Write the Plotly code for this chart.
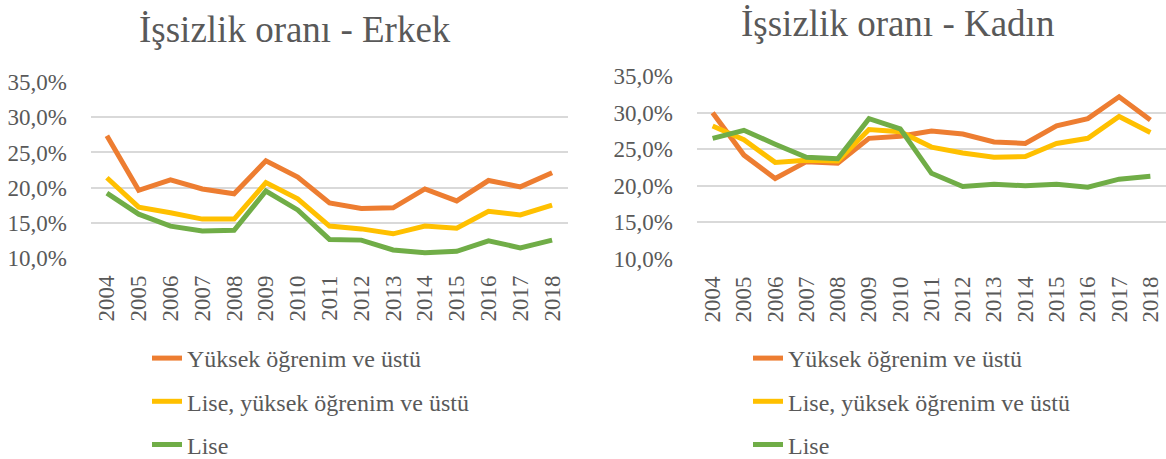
import plotly.graph_objects as go

years = [str(y) for y in range(2004, 2019)]

series_names = ["Yüksek öğrenim ve üstü", "Lise, yüksek öğrenim ve üstü", "Lise"]
colors = ["#ED7D31", "#FFC000", "#70AD47"]

erkek_yuksek = [27.4, 19.6, 21.1, 19.8, 19.1, 23.8, 21.5, 17.8, 17.0, 17.1, 19.8, 18.1, 21.0, 20.1, 22.1]
erkek_lise_yuksek = [21.4, 17.2, 16.4, 15.5, 15.5, 20.7, 18.4, 14.5, 14.1, 13.4, 14.5, 14.2, 16.6, 16.1, 17.5]
erkek_lise = [19.2, 16.2, 14.5, 13.8, 13.9, 19.5, 16.8, 12.6, 12.5, 11.1, 10.7, 10.9, 12.4, 11.4, 12.5]

kadin_yuksek = [30.0, 24.2, 21.0, 23.3, 23.1, 26.5, 26.8, 27.5, 27.1, 26.0, 25.8, 28.2, 29.2, 32.2, 29.0]
kadin_lise_yuksek = [28.2, 26.3, 23.2, 23.5, 23.4, 27.7, 27.4, 25.3, 24.5, 23.9, 24.0, 25.8, 26.5, 29.5, 27.3]
kadin_lise = [26.5, 27.6, 25.7, 23.9, 23.7, 29.2, 27.8, 21.7, 19.9, 20.2, 20.0, 20.2, 19.8, 20.9, 21.3]

titles = ["İşsizlik oranı - Erkek", "İşsizlik oranı - Kadın"]

W, H = 1166, 459
OFF = 0  # body margin removed via post_script
FONT = "Liberation Serif"
GREY = "#595959"

fig = go.Figure()

panels = [
    ("x", "y", "legend", [erkek_yuksek, erkek_lise_yuksek, erkek_lise]),
    ("x2", "y2", "legend2", [kadin_yuksek, kadin_lise_yuksek, kadin_lise]),
]
for xa, ya, lg, data in panels:
    for name, col, vals in zip(series_names, colors, data):
        fig.add_trace(go.Scatter(
            x=years, y=vals, mode="lines", name=name,
            line=dict(color=col, width=5),
            xaxis=xa, yaxis=ya, legend=lg, legendgroup=lg + name,
            hoverinfo="skip",
        ))

def fx(px):
    return (px - OFF) / W

def fy(py):
    return 1 - (py - OFF) / H

axis_common_x = dict(
    type="category", range=[-0.5, 14.5], tickangle=-90, showgrid=False,
    showline=False, zeroline=False, ticks="", ticklabelstandoff=12,
    automargin=False,
    tickfont=dict(family=FONT, size=23, color=GREY), fixedrange=True,
)
axis_common_y = dict(
    range=[9.95, 35.05], dtick=5, tick0=10, tickformat=".1f", ticksuffix="%",
    showgrid=True, gridcolor="#D9D9D9", gridwidth=1.6, zeroline=False,
    showline=False, ticks="", ticklabelstandoff=23, automargin=False,
    tickfont=dict(family=FONT, size=23, color=GREY), fixedrange=True,
)

legend_common = dict(
    font=dict(family=FONT, size=24, color=GREY), bgcolor="rgba(0,0,0,0)",
    tracegroupgap=9, xanchor="left", yanchor="top", itemclick=False,
    itemdoubleclick=False,
)

fig.update_layout(
    width=W, height=H, margin=dict(l=0, r=0, t=0, b=0, autoexpand=False),
    paper_bgcolor="white", plot_bgcolor="white",
    separators=",.",
    font=dict(family=FONT, color=GREY),
    xaxis=dict(domain=[fx(91), fx(568)], anchor="y", **axis_common_x),
    yaxis=dict(domain=[fy(258), fy(82)], anchor="x", **axis_common_y),
    xaxis2=dict(domain=[fx(697), fx(1166)], anchor="y2", **axis_common_x),
    yaxis2=dict(domain=[fy(259), fy(76)], anchor="x2", **axis_common_y),
    legend=dict(x=fx(147), y=fy(336), **legend_common),
    legend2=dict(x=fx(748), y=fy(336), **legend_common),
    showlegend=True,
    annotations=[
        dict(text=titles[0], x=fx(295), y=fy(30), xref="paper", yref="paper",
             xanchor="center", yanchor="middle", showarrow=False,
             font=dict(family=FONT, size=37, color=GREY)),
        dict(text=titles[1], x=fx(897), y=fy(23), xref="paper", yref="paper",
             xanchor="center", yanchor="middle", showarrow=False,
             font=dict(family=FONT, size=37, color=GREY)),
    ],
)

fig.write_html(
    "out.html",
    config={"displayModeBar": False},
    post_script="document.body.style.margin='0';document.body.style.overflow='hidden';",
)
